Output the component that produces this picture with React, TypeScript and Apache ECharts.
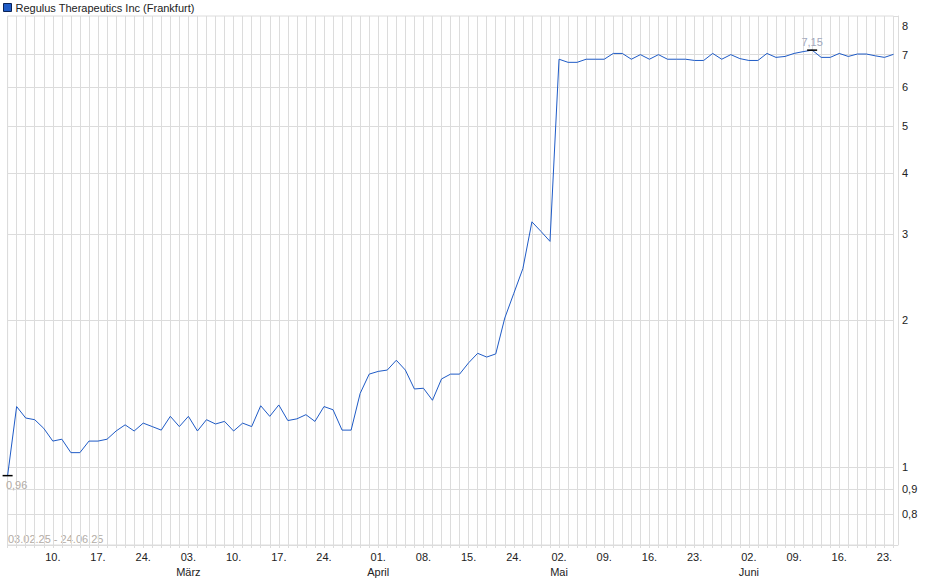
import React, { useEffect, useRef } from "react";
import * as echarts from "echarts";

const seriesName = "Regulus Therapeutics Inc (Frankfurt)";

const tradingDates = [
  "03.02.25","04.02.25","05.02.25","06.02.25","07.02.25",
  "10.02.25","11.02.25","12.02.25","13.02.25","14.02.25",
  "17.02.25","18.02.25","19.02.25","20.02.25","21.02.25",
  "24.02.25","25.02.25","26.02.25","27.02.25","28.02.25",
  "03.03.25","04.03.25","05.03.25","06.03.25","07.03.25",
  "10.03.25","11.03.25","12.03.25","13.03.25","14.03.25",
  "17.03.25","18.03.25","19.03.25","20.03.25","21.03.25",
  "24.03.25","25.03.25","26.03.25","27.03.25","28.03.25",
  "31.03.25","01.04.25","02.04.25","03.04.25","04.04.25",
  "07.04.25","08.04.25","09.04.25","10.04.25","11.04.25",
  "14.04.25","15.04.25","16.04.25","17.04.25",
  "22.04.25","23.04.25","24.04.25","25.04.25",
  "28.04.25","29.04.25","30.04.25","02.05.25",
  "05.05.25","06.05.25","07.05.25","08.05.25","09.05.25",
  "12.05.25","13.05.25","14.05.25","15.05.25","16.05.25",
  "19.05.25","20.05.25","21.05.25","22.05.25","23.05.25",
  "26.05.25","27.05.25","28.05.25","29.05.25","30.05.25",
  "02.06.25","03.06.25","04.06.25","05.06.25","06.06.25",
  "09.06.25","10.06.25","11.06.25","12.06.25","13.06.25",
  "16.06.25","17.06.25","18.06.25","19.06.25","20.06.25",
  "23.06.25","24.06.25",
];

const prices = [
  0.96, 1.33, 1.26, 1.25, 1.2,
  1.13, 1.14, 1.07, 1.07, 1.13,
  1.13, 1.14, 1.185, 1.22, 1.185,
  1.23, 1.21, 1.19, 1.27, 1.21,
  1.27, 1.185, 1.25, 1.225, 1.24,
  1.185, 1.23, 1.21, 1.335, 1.27,
  1.34, 1.245, 1.255, 1.28, 1.24,
  1.33, 1.31, 1.19, 1.19, 1.415,
  1.55, 1.57, 1.58, 1.655, 1.58,
  1.445, 1.45, 1.37, 1.515, 1.55,
  1.55, 1.635, 1.71, 1.68,
  1.705, 2.02, 2.27, 2.55,
  3.18, 3.04, 2.9, 6.85,
  6.75, 6.75, 6.85, 6.85, 6.85,
  7.04, 7.04, 6.85, 7.0, 6.85,
  7.0, 6.85, 6.85, 6.85, 6.81,
  6.81, 7.04, 6.85, 7.0, 6.87,
  6.81, 6.81, 7.04, 6.91, 6.94,
  7.04, 7.1, 7.15, 6.91, 6.91,
  7.04, 6.94, 7.02, 7.02, 6.96,
  6.91, 7.01,
];

const tickDates = [
  "10.02.25","17.02.25","24.02.25","03.03.25","10.03.25","17.03.25","24.03.25",
  "01.04.25","08.04.25","15.04.25","24.04.25","02.05.25","09.05.25","16.05.25",
  "23.05.25","02.06.25","09.06.25","16.06.25","23.06.25",
];
const monthTickDates = ["03.03.25", "01.04.25", "02.05.25", "02.06.25"];
const monthTickNames = ["März", "April", "Mai", "Juni"];

const yLabelValues = [0.8, 0.9, 1, 2, 3, 4, 5, 6, 7, 8];
const yGridValues = [0.8, 0.9, 1, 2, 3, 4, 5, 6, 7];

const FONT = "'Liberation Sans', Arial, sans-serif";
const LINE_COLOR = "#1f5bc6";
const GRID_COLOR = "#dcdcdc";
const NOTE_COLOR = "#b3aca6";

const fmtNum = (v: number) => String(Number(v.toPrecision(6))).replace(".", ",");

export default function App() {
  const ref = useRef<HTMLDivElement>(null);
  useEffect(() => {
    if (!ref.current) return;
    const chart = echarts.init(ref.current, undefined, { renderer: "svg" });
    const gridLeft = 7.6;
    const gridRight = 46.5;
    const gridTop = 16;
    const gridBottom = 34;
    const W = 940;
    const H = 579;
    chart.setOption({
      animation: false,
      backgroundColor: "#fff",
      textStyle: { fontFamily: FONT },
      legend: {
        show: true,
        left: 0,
        top: 0,
        itemWidth: 8,
        itemHeight: 8,
        icon: "rect",
        itemGap: 4,
        padding: [2, 2, 2, 3],
        textStyle: { fontSize: 11, color: "#222", fontFamily: FONT, padding: [0, 0, 0, -1] },
        data: [
          {
            name: seriesName,
            itemStyle: { color: LINE_COLOR, borderColor: "#0b2356", borderWidth: 1 },
          },
        ],
      },
      grid: {
        left: gridLeft,
        right: gridRight,
        top: gridTop,
        bottom: gridBottom,
        show: true,
        borderColor: GRID_COLOR,
        borderWidth: 1,
        backgroundColor: "transparent",
      },
      xAxis: {
        type: "category",
        data: tradingDates,
        boundaryGap: false,
        axisLine: { show: true, lineStyle: { color: GRID_COLOR } },
        axisTick: { show: true, interval: 0, length: 3, lineStyle: { color: GRID_COLOR } },
        splitLine: { show: true, interval: 0, lineStyle: { color: GRID_COLOR, width: 1 } },
        axisLabel: {
          interval: (_i: number, v: string) => tickDates.includes(v),
          formatter: (v: string) => {
            const day = v.slice(0, 3);
            const mi = monthTickDates.indexOf(v);
            return mi >= 0 ? `${day}\n{m|${monthTickNames[mi]}}` : day;
          },
          fontSize: 11,
          color: "#222",
          margin: 5,
          lineHeight: 13,
          fontFamily: FONT,
          rich: { m: { fontSize: 11, color: "#222", lineHeight: 14, padding: [3, 0, 0, 0], fontFamily: FONT } },
        },
      },
      yAxis: {
        type: "log",
        logBase: 10,
        position: "right",
        min: 0.692,
        max: 8.4,
        offset: 4.5,
        axisLine: { show: true, lineStyle: { color: GRID_COLOR } },
        axisTick: { show: false, customValues: yGridValues },
        splitLine: { show: true, lineStyle: { color: GRID_COLOR, width: 1 } },
        minorSplitLine: { show: false },
        axisLabel: {
          customValues: yLabelValues,
          formatter: (v: number) => fmtNum(v),
          fontSize: 11,
          color: "#222",
          margin: 4,
          fontFamily: FONT,
          showMinLabel: true,
          showMaxLabel: true,
        },
      },
      graphic: [
        {
          type: "line",
          silent: true,
          shape: { x1: W - gridRight, y1: gridTop + 0.5, x2: W - gridRight + 4.5, y2: gridTop + 0.5 },
          style: { stroke: GRID_COLOR, lineWidth: 1 },
        },
        {
          type: "line",
          silent: true,
          shape: { x1: W - gridRight, y1: H - gridBottom + 0.5, x2: W - gridRight + 4.5, y2: H - gridBottom + 0.5 },
          style: { stroke: GRID_COLOR, lineWidth: 1 },
        },
        {
          type: "text",
          left: 8,
          bottom: gridBottom + 1,
          silent: true,
          style: {
            text: `${tradingDates[0]} - ${tradingDates[tradingDates.length - 1]}`,
            fill: NOTE_COLOR,
            fontSize: 11,
            fontFamily: FONT,
          },
        },
      ],
      series: [
        {
          name: seriesName,
          type: "line",
          data: prices,
          symbol: "none",
          showSymbol: false,
          lineStyle: { color: LINE_COLOR, width: 1 },
          itemStyle: { color: LINE_COLOR },
          z: 3,
          markPoint: {
            symbol: "rect",
            symbolSize: [10, 1.5],
            itemStyle: { color: "#000" },
            silent: true,
            label: {
              show: true,
              formatter: (p: any) => fmtNum(p.value),
              fontSize: 11,
              fontFamily: FONT,
            },
            data: [
              {
                type: "min",
                name: "min",
                label: { position: "bottom", distance: 3.5, offset: [9, 0], color: NOTE_COLOR },
              },
              {
                type: "max",
                name: "max",
                label: { position: "top", distance: 2, color: "#a3a8bd" },
              },
            ],
          },
        },
      ],
    });
    return () => chart.dispose();
  }, []);
  return <div ref={ref} style={{ position: "fixed", left: 0, top: 0, width: 940, height: 579 }} />;
}
